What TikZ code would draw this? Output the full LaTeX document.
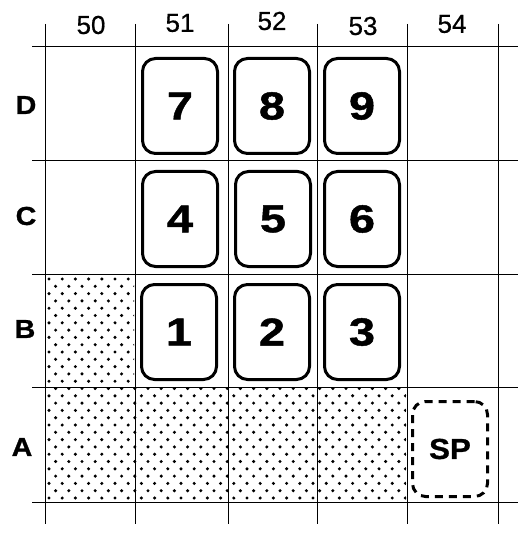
\documentclass[tikz,border=0pt]{standalone}
\usepackage{fontspec}
\setmainfont{Liberation Sans}
\newfontfamily\heavyfont[FakeBold=1.2,FakeStretch=1.2]{Liberation Sans Bold}
\newfontfamily\spfont[FakeBold=0.8,FakeStretch=1.08]{Liberation Sans Bold}
\newfontfamily\rowfont[FakeBold=1.0,FakeStretch=1.1]{Liberation Sans Bold}
\newfontfamily\medfont[FakeBold=0.6]{Liberation Sans}
\begin{document}
\begin{tikzpicture}[x=1pt,y=-1pt,
  gridline/.style={line width=1pt},
  numbox/.style={draw,line width=3pt,rounded corners=13pt,minimum width=75pt,minimum height=95pt,inner sep=0pt,font=\heavyfont\fontsize{39}{39}\selectfont},
  spbox/.style={numbox,dash pattern=on 8pt off 6pt,font=\spfont\fontsize{29}{29}\selectfont},
  collabel/.style={font=\medfont\fontsize{26}{26}\selectfont},
  rowlabel/.style={font=\rowfont\fontsize{26}{26}\selectfont}]
\useasboundingbox (0,0) rectangle (518,534);
% dotted shading
\begin{scope}
\clip (46,275) rectangle (134,386) (46,388) rectangle (406,501);
\foreach \r in {0,...,30}{
  \pgfmathsetmacro\yy{279+7.3*\r}
  \pgfmathsetmacro\off{mod(\r,2)*6.6}
  \foreach \c in {0,...,28}{
    \fill (49+\off+13.2*\c,\yy) circle (1.7);
  }
}
\end{scope}
% grid
\foreach \x in {45,135,228,317,407,498}{\draw[gridline] (\x,24) -- (\x,524);}
\foreach \y in {47,161,274,387,502}{\draw[gridline] (32,\y) -- (518,\y);}
% labels
\node[collabel] (c50) at (91,25) {50};
\node[collabel] (c51) at (180,23) {51};
\node[collabel] (c52) at (272,21) {52};
\node[collabel] (c53) at (363,26) {53};
\node[collabel] (c54) at (452,24) {54};
\node[rowlabel] (rD) at (26,105) {D};
\node[rowlabel] (rC) at (26,216) {C};
\node[rowlabel] (rB) at (25,329) {B};
\node[rowlabel] (rA) at (22,447) {A};
% boxes
\node[numbox] (b7) at (180,106) {7};
\node[numbox] (b8) at (272,106) {8};
\node[numbox] (b9) at (362,106) {9};
\node[numbox] (b4) at (180,219) {4};
\node[numbox] (b5) at (273,219) {5};
\node[numbox] (b6) at (362,219) {6};
\node[numbox] (b1) at (179,332) {1};
\node[numbox] (b2) at (272,332) {2};
\node[numbox] (b3) at (362,332) {3};
\node[spbox] (sp) at (450,449) {SP};
\end{tikzpicture}
\end{document}
